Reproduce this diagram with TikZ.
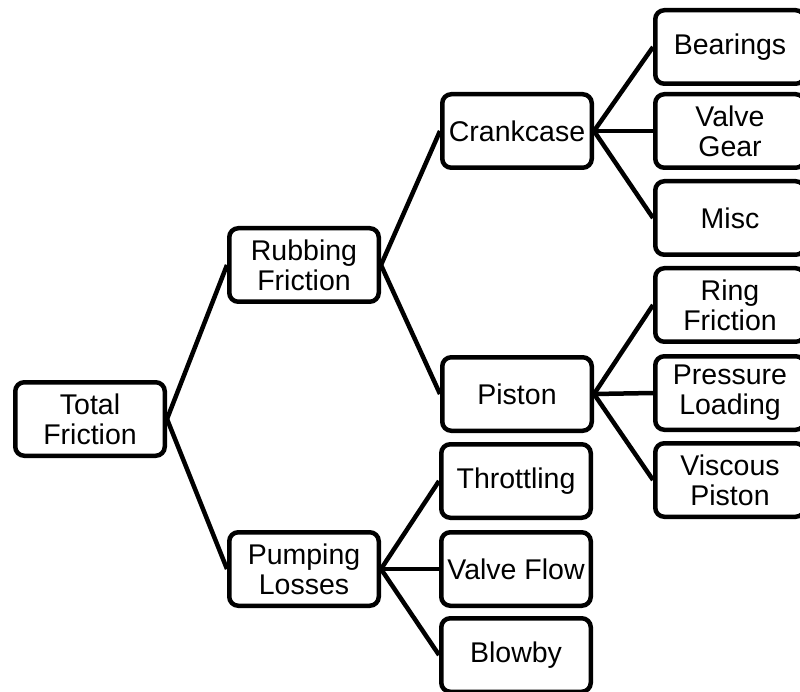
\documentclass[tikz,border=0pt]{standalone}
\usepackage{fontspec}
\setmainfont{Liberation Sans}
\usetikzlibrary{positioning}

\begin{document}
\begin{tikzpicture}[x=1pt, y=-1pt,
    box/.style={draw, line width=4.5pt, rounded corners=9pt, fill=white,
                minimum width=149.5pt, minimum height=73.5pt, inner sep=0pt,
                align=center, font=\fontsize{28.5}{30}\selectfont},
    link/.style={line width=4.5pt}]
    \clip (0,0) rectangle (800,692);

    % Levels 1 and 2
    \node[box] (total) at (90,419) {Total\\Friction};
    \node[box] (rub) at (304,265) {Rubbing\\Friction};
    \node[box] (pump) at (304,569) {Pumping\\Losses};

    % Level 3
    \node[box] (crank) at (517,131) {Crankcase};
    \node[box] (piston) at (517,394) {Piston};
    \node[box] (throt) at (516,481) {Throttling};
    \node[box] (vflow) at (516,569) {Valve Flow};
    \node[box] (blow) at (516,655) {Blowby};

    % Level 4
    \node[box] (bear) at (730,47) {Bearings};
    \node[box] (vgear) at (730,131) {Valve\\Gear};
    \node[box] (misc) at (730,218) {Misc};
    \node[box] (ring) at (730,305) {Ring\\Friction};
    \node[box] (press) at (730,393) {Pressure\\Loading};
    \node[box] (visc) at (730,480) {Viscous\\Piston};

    % Connectors
    \foreach \a/\b in {total/rub, total/pump, rub/crank, rub/piston,
                       pump/throt, pump/vflow, pump/blow,
                       crank/bear, crank/vgear, crank/misc,
                       piston/ring, piston/press, piston/visc}
        \draw[link] (\a.east) -- (\b.west);
\end{tikzpicture}
\end{document}
